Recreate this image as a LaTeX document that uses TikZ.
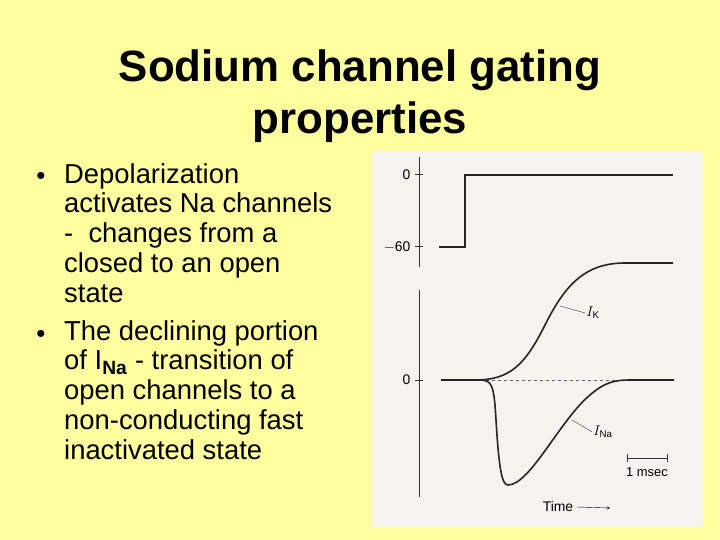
\documentclass[tikz,border=0pt]{standalone}
\usepackage{fontspec}
\setmainfont{Liberation Sans}
\begin{document}
\begin{tikzpicture}[x=1bp,y=-1bp,
  txt/.style={anchor=north west,align=left,font=\fontsize{27.5}{30}\selectfont,inner sep=0},
  crv/.style={line width=1.6bp,black!85},
  ax/.style={line width=1bp,black!80},
  lab/.style={font=\fontsize{14}{16}\selectfont\itshape,inner sep=1},
  num/.style={font=\fontsize{14}{16}\selectfont,anchor=east}]
\fill[fill={rgb,255:red,255;green,255;blue,160}] (0,0) rectangle (720,540);
\useasboundingbox (0,0) rectangle (720,540);
\node[font=\bfseries\fontsize{44}{52}\selectfont,align=center] (title) at (360,96) {Sodium channel gating\\properties};
\node[anchor=center,inner sep=0,font=\fontsize{26}{26}\selectfont] (b1) at (41,178) {\textbullet};
\node[txt] (t1) at (64,163) {Depolarization\\activates Na channels\\- \ changes from a\\closed to an open\\state};
\node[anchor=center,inner sep=0,font=\fontsize{26}{26}\selectfont] (b2) at (41,336) {\textbullet};
\node[txt] (t2) at (64,320) {The declining portion\\of I\textsubscript{\textbf{Na}} - transition of\\open channels to a\\non-conducting fast\\inactivated state};
\fill[fill={rgb,255:red,244;green,243;blue,238}] (372,151) rectangle (703,527);
% top axis
\draw[ax] (419,157) -- (419,267);
\draw[ax] (415,175) -- (423,175); \draw[ax] (415,247) -- (423,247);
\node[num] (z1) at (414,175) {0};
\node[num] (m60) at (414,247) {$-$60};
\draw[crv] (439,247) -- (465,247) -- (465,175) -- (673,175);
% lower axis
\draw[ax] (419,290) -- (419,497);
\draw[ax] (415,380) -- (423,380);
\node[num] (z2) at (414,380) {0};
\draw[black!60,dashed] (480,380) -- (625,380);
\draw[crv] (441,380) -- (475,380) .. controls (510,380) and (525,365) .. (545,325) .. controls (565,285) and (585,263) .. (625,263) -- (673,263);
\draw[crv] (441,380) -- (480,380) .. controls (492,380) and (494,385) .. (496,420) .. controls (499,470) and (502,485) .. (508,485) .. controls (530,485) and (560,420) .. (590,395) .. controls (605,382) and (615,380) .. (630,380) -- (674,380);
\node[lab] (ik) at (593,313) {$I_{\mathrm K}$};
\node[lab] (ina) at (603,432) {$I_{\mathrm{Na}}$};
\draw[black!80,thin] (ik.west) -- (560,306);
\draw[black!80,thin] (ina.west) -- (572,420);
\draw[ax] (627,458) -- (667,458); \draw[ax] (627,454) -- (627,462); \draw[ax] (667,454) -- (667,462);
\node[font=\fontsize{13}{15}\selectfont] (ms) at (647,472) {1 msec};
\node[font=\fontsize{14}{16}\selectfont] (time) at (558,507) {Time};
\coordinate (ta) at (610,508);
\draw[-stealth,thin] (time.east) -- (ta);
\end{tikzpicture}
\end{document}
